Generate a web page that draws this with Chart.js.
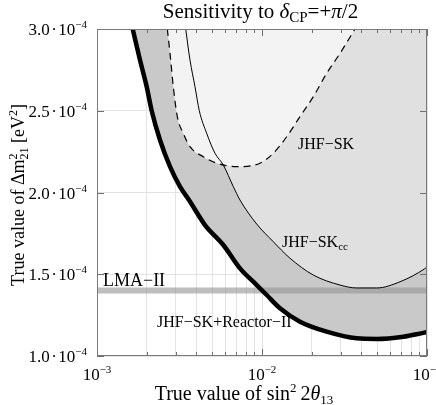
<!DOCTYPE html>
<html>
<head>
<meta charset="utf-8">
<script src="https://cdn.jsdelivr.net/npm/chart.js@4.4.1/dist/chart.umd.min.js"></script>
<style>
  html, body { margin: 0; padding: 0; background: #ffffff; }
  #wrap { width: 436px; height: 405px; }
</style>
</head>
<body>
<div id="wrap"><canvas id="c" width="436" height="405"></canvas></div>
<script>
// ---------------- data (x: true sin^2 2theta13, y: true Δm²21 in units of 1e-4 eV²) ----------------
const reactorX = [1.646e-3, 1.822e-3, 2.001e-3, 2.145e-3, 2.409e-3, 2.770e-3, 3.184e-3, 3.611e-3, 4.513e-3, 5.829e-3,
                  7.356e-3, 9.29e-3, 1.068e-2, 1.285e-2, 1.699e-2, 2.466e-2, 3.75e-2, 4.955e-2, 7.18e-2, 9.63e-2, 1.0e-1];
const reactorY = [3.0, 2.810, 2.647, 2.500, 2.321, 2.158, 2.036, 1.954, 1.801, 1.679,
                  1.536, 1.434, 1.373, 1.292, 1.210, 1.149, 1.108, 1.104, 1.118, 1.143, 1.146];

const skccX = [3.448e-3, 3.661e-3, 3.925e-3, 4.169e-3, 4.621e-3, 5.189e-3, 5.829e-3, 6.70e-3, 7.356e-3, 9.29e-3,
               1.171e-2, 1.478e-2, 2.047e-2, 2.970e-2, 3.75e-2, 4.955e-2, 6.86e-2, 9.63e-2, 1.0e-1];
const skccY = [3.0, 2.810, 2.647, 2.500, 2.362, 2.240, 2.168, 2.036, 1.954, 1.807,
               1.699, 1.598, 1.495, 1.434, 1.416, 1.416, 1.454, 1.532, 1.545];

const skX = [2.668e-3, 2.770e-3, 2.900e-3, 3.067e-3, 3.334e-3, 3.661e-3, 4.407e-3, 5.314e-3, 7.026e-3, 9.725e-3,
             1.171e-2, 1.411e-2, 1.699e-2, 2.047e-2, 2.466e-2, 2.970e-2, 3.661e-2];
const skY = [3.0, 2.851, 2.647, 2.464, 2.362, 2.280, 2.219, 2.179, 2.158, 2.179,
             2.240, 2.341, 2.464, 2.586, 2.729, 2.851, 3.0];

const lmaX = [1.0e-3, 1.0e-1];
const lmaY = [1.4, 1.4];

const xGridValues = [1e-3, 2e-3, 3e-3, 4e-3, 5e-3, 6e-3, 7e-3, 8e-3, 9e-3,
                     1e-2, 2e-2, 3e-2, 4e-2, 5e-2, 6e-2, 7e-2, 8e-2, 9e-2, 1e-1];
const xTickValues = [1e-3, 1e-2, 1e-1];
const xTickLabels = ['10^\u22123', '10^\u22122', '10^\u22121'];
const yTickValues = [1.0, 1.5, 2.0, 2.5, 3.0];
const yTickLabels = ['1.0\u200A\u00B7\u200A10^\u22124', '1.5\u200A\u00B7\u200A10^\u22124', '2.0\u200A\u00B7\u200A10^\u22124',
                     '2.5\u200A\u00B7\u200A10^\u22124', '3.0\u200A\u00B7\u200A10^\u22124'];

// curve labels: anchor in data coordinates (left, baseline)
const curveLabels = [
  { text: 'JHF\u2212SK', sub: '', x: 0.01652, y: 2.266, size: 16 },
  { text: 'JHF\u2212SK', sub: 'cc', x: 0.01322, y: 1.667, size: 16 },
  { text: 'JHF\u2212SK+Reactor\u2212II', sub: '', x: 2.31e-3, y: 1.177, size: 16 },
  { text: 'LMA\u2212II', sub: '', x: 1.087e-3, y: 1.428, size: 18 }
];

// ---------------- helpers ----------------
const SERIF = '"Liberation Serif", "Times New Roman", serif';
const toPts = (xs, ys) => xs.map((x, i) => ({ x: x, y: ys[i] }));

function runsWidth(ctx, runs) {
  let w = 0;
  for (const r of runs) { ctx.font = r.font; w += ctx.measureText(r.t).width; }
  return w;
}
function drawRuns(ctx, runs, x, y) {
  let cx = x;
  for (const r of runs) {
    ctx.font = r.font;
    ctx.fillText(r.t, cx, y + (r.dy || 0));
    cx += ctx.measureText(r.t).width;
  }
  return cx;
}
function powerRuns(label) {
  const parts = label.split('^');
  return [
    { t: parts[0], font: '17px ' + SERIF },
    { t: parts[1], font: '11px ' + SERIF, dy: -7 }
  ];
}

const decorations = {
  id: 'decorations',
  afterDatasetsDraw(chart) {
    const ctx = chart.ctx;
    const a = chart.chartArea;
    const xs = chart.scales.x, ys = chart.scales.y;
    ctx.save();
    // inner tick marks
    ctx.strokeStyle = '#6e6e6e';
    ctx.lineWidth = 1;
    ctx.beginPath();
    xGridValues.forEach(v => {
      const px = Math.round(xs.getPixelForValue(v)) + 0.5;
      const major = xTickValues.some(t => Math.abs(Math.log10(t) - Math.log10(v)) < 1e-6);
      const len = major ? 7 : 4;
      ctx.moveTo(px, a.bottom); ctx.lineTo(px, a.bottom - len);
      ctx.moveTo(px, a.top); ctx.lineTo(px, a.top + len);
    });
    yTickValues.forEach(v => {
      const py = Math.round(ys.getPixelForValue(v)) + 0.5;
      ctx.moveTo(a.left, py); ctx.lineTo(a.left + 7, py);
      ctx.moveTo(a.right, py); ctx.lineTo(a.right - 7, py);
    });
    ctx.stroke();
    // frame
    ctx.strokeStyle = '#7a7a7a';
    ctx.strokeRect(Math.round(a.left) + 0.5, Math.round(a.top) + 0.5,
                   Math.round(a.right - a.left) - 1, Math.round(a.bottom - a.top) - 1);
    // curve labels
    ctx.fillStyle = '#000';
    ctx.textBaseline = 'alphabetic';
    ctx.textAlign = 'left';
    curveLabels.forEach(l => {
      const px = xs.getPixelForValue(l.x);
      const py = ys.getPixelForValue(l.y);
      const runs = [{ t: l.text, font: l.size + 'px ' + SERIF }];
      if (l.sub) runs.push({ t: l.sub, font: Math.round(l.size * 0.7) + 'px ' + SERIF, dy: 3 });
      drawRuns(ctx, runs, px, py);
    });
    ctx.restore();
  },
  afterDraw(chart) {
    const ctx = chart.ctx;
    const a = chart.chartArea;
    const xs = chart.scales.x, ys = chart.scales.y;
    ctx.save();
    ctx.fillStyle = '#000';
    ctx.textBaseline = 'alphabetic';
    ctx.textAlign = 'left';

    // tick labels (with real superscript exponents), placed through the scales
    yTickValues.forEach((v, i) => {
      const runs = powerRuns(yTickLabels[i]);
      const w = runsWidth(ctx, runs);
      drawRuns(ctx, runs, a.left - 10 - w, ys.getPixelForValue(v) + 6);
    });
    xTickValues.forEach((v, i) => {
      const runs = powerRuns(xTickLabels[i]);
      const w = runsWidth(ctx, runs);
      drawRuns(ctx, runs, xs.getPixelForValue(v) - w / 2, a.bottom + 24);
    });

    // title
    const T = 21;
    const titleRuns = [
      { t: 'Sensitivity to ', font: T + 'px ' + SERIF },
      { t: '\u03B4', font: 'italic ' + T + 'px ' + SERIF },
      { t: 'CP', font: '15px ' + SERIF, dy: 4 },
      { t: '=+', font: T + 'px ' + SERIF },
      { t: '\u03C0', font: 'italic ' + T + 'px ' + SERIF },
      { t: '/2', font: T + 'px ' + SERIF }
    ];
    const tw = runsWidth(ctx, titleRuns);
    drawRuns(ctx, titleRuns, 260.5 - tw / 2, 18);

    // x axis title
    const X = 20;
    const xRuns = [
      { t: 'True value of sin', font: X + 'px ' + SERIF },
      { t: '2', font: '13px ' + SERIF, dy: -8 },
      { t: '\u20092', font: X + 'px ' + SERIF },
      { t: '\u03B8', font: 'italic ' + X + 'px ' + SERIF },
      { t: '13', font: '13px ' + SERIF, dy: 4 }
    ];
    const xw = runsWidth(ctx, xRuns);
    drawRuns(ctx, xRuns, 244 - xw / 2, 400);

    // y axis title (rotated)
    const Y = 18;
    ctx.translate(24, 195);
    ctx.rotate(-Math.PI / 2);
    const f1 = Y + 'px ' + SERIF, fs = '12px ' + SERIF;
    ctx.font = f1;
    const w1 = ctx.measureText('True value of \u0394m').width;
    ctx.font = fs;
    const wst = Math.max(ctx.measureText('2').width, ctx.measureText('21').width);
    ctx.font = f1;
    const w2 = ctx.measureText(' [eV').width;
    ctx.font = fs;
    const w3 = ctx.measureText('2').width;
    ctx.font = f1;
    const w4 = ctx.measureText(']').width;
    const total = w1 + wst + w2 + w3 + w4;
    let cx = -total / 2;
    ctx.font = f1; ctx.fillText('True value of \u0394m', cx, 0); cx += w1;
    ctx.font = fs; ctx.fillText('2', cx, -7); ctx.fillText('21', cx, 4); cx += wst;
    ctx.font = f1; ctx.fillText(' [eV', cx, 0); cx += w2;
    ctx.font = fs; ctx.fillText('2', cx, -7); cx += w3;
    ctx.font = f1; ctx.fillText(']', cx, 0);
    ctx.restore();
  }
};

new Chart(document.getElementById('c'), {
  type: 'line',
  data: {
    datasets: [
      { label: 'JHF-SK', data: toPts(skX, skY), borderColor: '#000', borderWidth: 1.2,
        borderDash: [7, 5], backgroundColor: '#f3f3f3', fill: 'end',
        pointRadius: 0, cubicInterpolationMode: 'monotone' },
      { label: 'JHF-SKcc', data: toPts(skccX, skccY), borderColor: '#000', borderWidth: 1,
        backgroundColor: '#e0e0e0', fill: 'end',
        pointRadius: 0, cubicInterpolationMode: 'monotone' },
      { label: 'JHF-SK+Reactor-II', data: toPts(reactorX, reactorY), borderColor: '#000', borderWidth: 4.5,
        backgroundColor: '#c9c9c9', fill: 'end',
        pointRadius: 0, cubicInterpolationMode: 'monotone', borderCapStyle: 'round' },
      { label: 'LMA-II', data: toPts(lmaX, lmaY), borderColor: 'rgba(150,150,150,0.62)', borderWidth: 6,
        fill: false, pointRadius: 0 }
    ]
  },
  options: {
    responsive: false,
    devicePixelRatio: 1,
    animation: false,
    layout: { padding: { top: 29, right: 9, left: 0, bottom: 0 } },
    plugins: {
      legend: { display: false },
      title: { display: false },
      tooltip: { enabled: false },
      filler: { drawTime: 'beforeDatasetsDraw', propagate: false }
    },
    scales: {
      x: {
        type: 'logarithmic',
        min: 1e-3, max: 1e-1,
        afterBuildTicks: s => { s.ticks = xGridValues.map(v => ({ value: v })); },
        afterFit: s => { s.height = 49; s.paddingLeft = 0; s.paddingRight = 0; },
        ticks: { display: false, autoSkip: false, maxRotation: 0, minRotation: 0 },
        grid: { color: '#e3e3e3', drawTicks: false, lineWidth: 1 },
        border: { display: false }
      },
      y: {
        type: 'linear',
        min: 1.0, max: 3.0,
        afterBuildTicks: s => { s.ticks = yTickValues.map(v => ({ value: v })); },
        afterFit: s => { s.width = 97; s.paddingTop = 0; s.paddingBottom = 0; },
        ticks: { display: false },
        grid: { color: '#e3e3e3', drawTicks: false, lineWidth: 1 },
        border: { display: false }
      }
    }
  },
  plugins: [decorations]
});
</script>
</body>
</html>
